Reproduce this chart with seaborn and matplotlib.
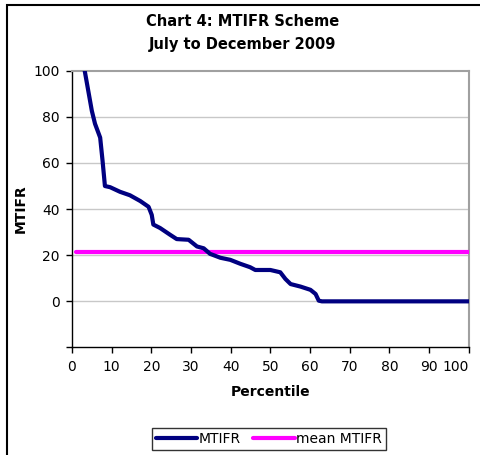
import matplotlib
matplotlib.use("Agg")
import matplotlib.pyplot as plt
import matplotlib.patches as mpatches
import seaborn as sns
import pandas as pd

# Data
percentile = [3.2, 5.0, 5.8, 7.1, 7.7, 8.3, 9.6, 12.1, 14.6, 17.2, 19.3, 20.1,
              20.5, 22.2, 24.7, 26.4, 29.4, 31.5, 33.2, 34.8, 37.4, 39.9, 42.4,
              44.9, 46.2, 50.0, 52.5, 53.8, 55.1, 57.6, 60.1, 61.4, 62.2, 63.0, 100]
mtifr = [100, 82.6, 77, 71, 61, 50, 49.5, 47.5, 46, 43.5, 41, 37.5,
         33.3, 31.8, 28.9, 27, 26.7, 23.8, 23, 20.6, 18.9, 18, 16.3,
         14.8, 13.6, 13.6, 12.6, 9.7, 7.5, 6.4, 5, 3.2, 0.3, 0, 0]
mean_x = [1, 100]
mean_mtifr = [21.3, 21.3]

x_ticks = [0, 10, 20, 30, 40, 50, 60, 70, 80, 90, 100]
y_ticks = [-20, 0, 20, 40, 60, 80, 100]
y_tick_labels = ["", "0", "20", "40", "60", "80", "100"]

title_lines = ["Chart 4: MTIFR Scheme", "July to December 2009"]

sns.set_style("white")
plt.rcParams["font.family"] = ["DejaVu Sans"]
plt.rcParams["text.color"] = "black"
plt.rcParams["axes.labelcolor"] = "black"
plt.rcParams["xtick.color"] = "black"
plt.rcParams["ytick.color"] = "black"

fig = plt.figure(figsize=(4.8, 4.55), dpi=100)
ax = fig.add_axes([0.15, 0.2363, 0.8265, 0.6083])

df = pd.DataFrame({"Percentile": percentile, "MTIFR": mtifr})
dm = pd.DataFrame({"Percentile": mean_x, "MTIFR": mean_mtifr})

sns.lineplot(data=df, x="Percentile", y="MTIFR", ax=ax, color="#000080",
             linewidth=3.0, label="MTIFR", estimator=None, sort=False, zorder=4)
sns.lineplot(data=dm, x="Percentile", y="MTIFR", ax=ax, color="#FF00FF",
             linewidth=3.0, label="mean MTIFR", estimator=None, sort=False, zorder=3)

ax.set_xlim(0, 100)
ax.set_ylim(-20, 100)
ax.set_xticks(x_ticks)
ax.set_xticklabels([str(t) for t in x_ticks])
ax.set_yticks(y_ticks)
ax.set_yticklabels(y_tick_labels)

for t in [0, 20, 40, 60, 80]:
    ax.axhline(t, color="#c8c8c8", linewidth=1.0, zorder=1)

ax.spines["left"].set_color("black")
ax.spines["bottom"].set_color("black")
ax.spines["left"].set_linewidth(1.0)
ax.spines["bottom"].set_linewidth(1.0)
ax.spines["top"].set_color("#a0a0a0")
ax.spines["right"].set_color("#a0a0a0")
ax.spines["top"].set_linewidth(1.5)
ax.spines["right"].set_linewidth(1.5)

ax.tick_params(axis="both", direction="out", length=4, width=1, color="black",
               labelsize=10, labelcolor="black", pad=5, left=True, bottom=True)
ax.get_xticklabels()[-1].set_horizontalalignment("right")

ax.set_xlabel("Percentile", fontsize=10, fontweight="bold", labelpad=8)
ax.set_ylabel("MTIFR", fontsize=10, fontweight="bold", labelpad=4)

fig.text(243 / 480, 1 - 22 / 455, title_lines[0], fontsize=10.5,
         fontweight="bold", ha="center", va="center")
fig.text(243 / 480, 1 - 45 / 455, title_lines[1], fontsize=10.5,
         fontweight="bold", ha="center", va="center")

leg = ax.legend(loc="center", bbox_to_anchor=(269 / 480, 16 / 455),
                bbox_transform=fig.transFigure, ncol=2, fontsize=10,
                frameon=True, fancybox=False, edgecolor="black",
                handlelength=3.0, handletextpad=0.1, columnspacing=0.9,
                borderpad=0.3, borderaxespad=0)
leg.get_frame().set_linewidth(1.0)

frame = mpatches.Rectangle((7 / 480, -0.1), 1.2, 1.1 - 5 / 455,
                           transform=fig.transFigure, fill=False,
                           edgecolor="black", linewidth=1.5)
fig.patches.append(frame)

fig.savefig("out.png", dpi=100)
